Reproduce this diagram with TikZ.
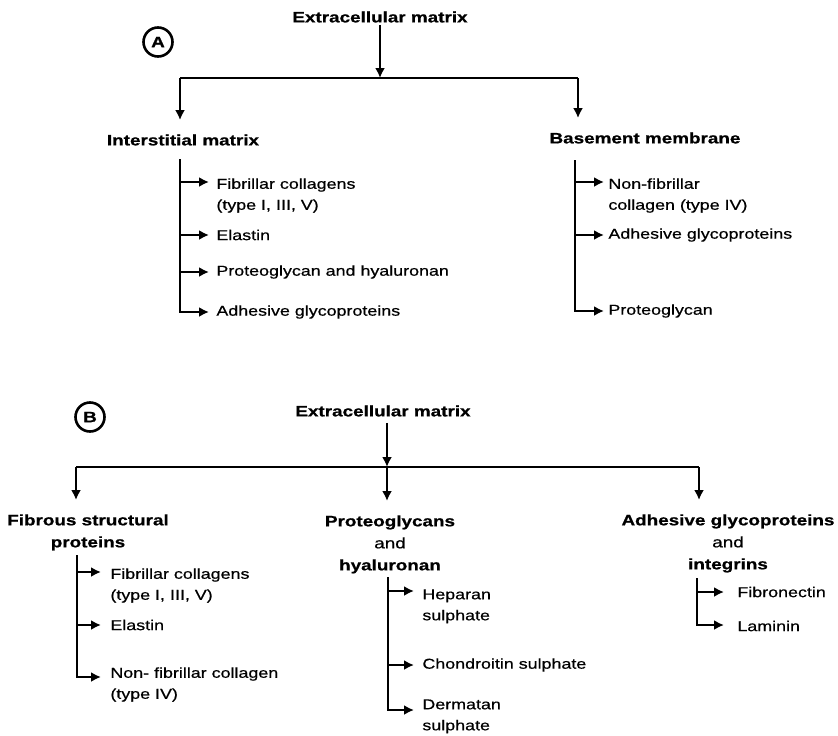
\documentclass[tikz,border=0pt]{standalone}
\usepackage{fontspec}
\setmainfont{Liberation Sans}[FakeStretch=1.25,
  UprightFeatures={FakeBold=0.6}, BoldFeatures={FakeBold=0.8}]
\usetikzlibrary{arrows.meta}

\newcommand{\headfont}{\fontsize{15.1}{22}\selectfont\bfseries}
\newcommand{\entryfont}{\fontsize{14.3}{21}\selectfont}

\begin{document}
\begin{tikzpicture}[
  x=1pt, y=-1pt,
  line width=2.8pt,
  arr/.style={-{Latex[length=10pt,width=10pt]}},
  drop/.style={arr, shorten >=#1}, drop/.default=12pt,
  twig/.style={arr, shorten >=#1}, twig/.default=5pt,
  head/.style={font=\headfont, align=center, inner sep=1pt},
  entry/.style={font=\entryfont, align=left, inner sep=1pt},
  tag/.style={circle, draw, line width=2.6pt, minimum size=29pt, inner sep=0pt, font=\headfont}
]
\useasboundingbox (0,0) rectangle (838,736);

% Panel A: interstitial matrix and basement membrane
\node[tag] (tagA) at (158,42) {A};
\node[head] (ecmA) at (380,17) {Extracellular matrix};
\coordinate (hubA) at (380,78);
\coordinate (hubAL) at (180,78);
\coordinate (hubAR) at (578,78);
\draw[arr] (ecmA) -- (hubA);
\draw (hubAL) -- (hubAR);

\node[head] (inter) at (183,140) {Interstitial matrix};
\node[head] (base) at (645,138) {Basement membrane};
\draw[drop] (hubAL) -- (hubAL |- inter.north);
\draw[drop] (hubAR) -- (hubAR |- base.north);

% interstitial matrix entries
\coordinate (iaT) at (180,159);
\coordinate (ia1) at (180,182);
\coordinate (ia2) at (180,235);
\coordinate (ia3) at (180,272);
\coordinate (ia4) at (180,312);
\node[entry, anchor=north west] (iaFib) at (214,176) {Fibrillar collagens\\(type I, III, V)};
\node[entry, anchor=west] (iaEla) at (214,235) {Elastin};
\node[entry, anchor=west] (iaPro) at (214,272) {Proteoglycan and hyaluronan};
\node[entry, anchor=west] (iaAdh) at (214,312) {Adhesive glycoproteins};
\draw[twig] (ia1) -- (ia1 -| iaFib.west);
\draw[twig] (ia2) -- (iaEla);
\draw[twig] (ia3) -- (iaPro);
\draw[twig] (iaT) -- (ia4) -- (iaAdh);

% basement membrane entries
\coordinate (bmT) at (575,160);
\coordinate (bm1) at (575,182);
\coordinate (bm2) at (575,235);
\coordinate (bm3) at (575,311);
\node[entry, anchor=north west] (bmNon) at (606,176) {Non-fibrillar\\collagen (type IV)};
\node[entry, anchor=west] (bmAdh) at (606,235) {Adhesive glycoproteins};
\node[entry, anchor=west] (bmPro) at (606,311) {Proteoglycan};
\draw[twig=2pt] (bm1) -- (bm1 -| bmNon.west);
\draw[twig=2pt] (bm2) -- (bmAdh);
\draw[twig=2pt] (bmT) -- (bm3) -- (bmPro);

% Panel B: the three component families
\node[tag] (tagB) at (90,417) {B};
\node[head] (ecmB) at (383,411) {Extracellular matrix};
\coordinate (hubB) at (387,467);
\coordinate (hubBL) at (76,467);
\coordinate (hubBR) at (699,467);
\draw[arr, shorten <=4pt] (hubB |- ecmB.south) -- (hubB);
\draw (hubBL) -- (hubBR);

\node[head, anchor=north] (fibrous) at (88,512) {Fibrous structural\\proteins};
\node[head, anchor=north] (proteo) at (390,513) {Proteoglycans\\{\mdseries and}\\hyaluronan};
\node[head, anchor=north] (adhes) at (728,512) {Adhesive glycoproteins\\{\mdseries and}\\integrins};
\draw[drop] (hubBL) -- (hubBL |- fibrous.north);
\draw[drop] (hubB) -- (hubB |- proteo.north);
\draw[drop] (hubBR) -- (hubBR |- adhes.north);

% fibrous structural proteins entries
\coordinate (fsT) at (77,555);
\coordinate (fs1) at (77,572);
\coordinate (fs2) at (77,625);
\coordinate (fs3) at (77,677);
\node[entry, anchor=north west] (fsFib) at (108,566) {Fibrillar collagens\\(type I, III, V)};
\node[entry, anchor=west] (fsEla) at (108,625) {Elastin};
\node[entry, anchor=north west] (fsNon) at (108,665) {Non- fibrillar collagen\\(type IV)};
\draw[twig=7pt] (fs1) -- (fs1 -| fsFib.west);
\draw[twig=7pt] (fs2) -- (fsEla);
\draw[twig=7pt] (fsT) -- (fs3) -- (fs3 -| fsNon.west);

% proteoglycans entries
\coordinate (pgT) at (388,577);
\coordinate (pg1) at (388,591);
\coordinate (pg2) at (388,665);
\coordinate (pg3) at (388,710);
\node[entry, anchor=north west] (pgHep) at (420,587) {Heparan\\sulphate};
\node[entry, anchor=west] (pgCho) at (420,665) {Chondroitin sulphate};
\node[entry, anchor=north west] (pgDer) at (420,697) {Dermatan\\sulphate};
\draw[twig=6pt] (pg1) -- (pg1 -| pgHep.west);
\draw[twig=6pt] (pg2) -- (pgCho);
\draw[twig=6pt] (pgT) -- (pg3) -- (pg3 -| pgDer.west);

% adhesive glycoproteins entries
\coordinate (agT) at (697,578);
\coordinate (ag1) at (697,592);
\coordinate (ag2) at (697,625);
\node[entry, anchor=west] (agFib) at (735,592) {Fibronectin};
\node[entry, anchor=west] (agLam) at (735,626) {Laminin};
\draw[twig=11pt] (ag1) -- (ag1 -| agFib.west);
\draw[twig=11pt] (agT) -- (ag2) -- (ag2 -| agLam.west);

\end{tikzpicture}
\end{document}
